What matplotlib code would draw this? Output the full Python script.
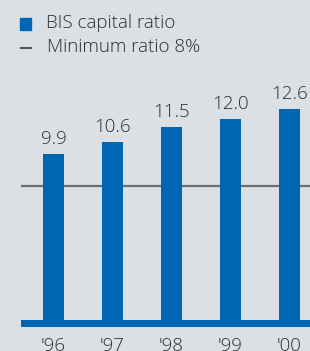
import matplotlib.pyplot as plt

years = ["'96", "'97", "'98", "'99", "'00"]
bis_ratio = [9.9, 10.6, 11.5, 12.0, 12.6]
minimum_ratio = 8

bg = '#dbe0e5'
blue = '#0066b3'
txt = '#2e2e2e'

plt.rcParams['font.family'] = ['Open Sans', 'DejaVu Sans']
fs = 13.5
fw = 300

fig = plt.figure(figsize=(3.10, 3.51), dpi=100, facecolor=bg)
# axes from x=21px to right edge, y from 327px (bottom of band) to top
ax = fig.add_axes([21 / 310, 24 / 351, 289 / 310, 327 / 351])
ax.set_facecolor(bg)

x = range(len(years))
ax.bar(x, bis_ratio, width=0.356, color=blue, zorder=2)
ax.axhline(minimum_ratio, color='#6d6d6d', lw=1.6, zorder=1)
ax.axhspan(-0.42, 0, color=blue, lw=0, zorder=3)

for i, v in zip(x, bis_ratio):
    ax.text(i, v + 0.35, f'{v:.1f}', ha='center', va='bottom',
            fontsize=fs, color=txt, fontweight=fw)

ax.set_xlim(-0.551, 4.347)
ax.set_ylim(-0.42, 19.08)
ax.set_xticks(list(x))
ax.set_xticklabels(years, fontsize=fs, color=txt, fontweight=fw)
ax.tick_params(axis='x', length=0, pad=7)
ax.set_yticks([])
for s in ax.spines.values():
    s.set_visible(False)

# legend
fig.patches.append(plt.Rectangle((20 / 310, 1 - 29.5 / 351), 11 / 310, 11 / 351,
                                 transform=fig.transFigure, color=blue))
fig.add_artist(plt.Line2D([21 / 310, 31 / 310], [1 - 47.7 / 351] * 2,
                          transform=fig.transFigure, color='#555555', lw=1.5))
fig.text(46 / 310, 1 - 23 / 351, 'BIS capital ratio', fontsize=fs,
         color=txt, va='center', fontweight=fw)
fig.text(47 / 310, 1 - 47 / 351, 'Minimum ratio 8%', fontsize=fs,
         color=txt, va='center', fontweight=fw)

fig.savefig('out.png', dpi=100, facecolor=bg)
